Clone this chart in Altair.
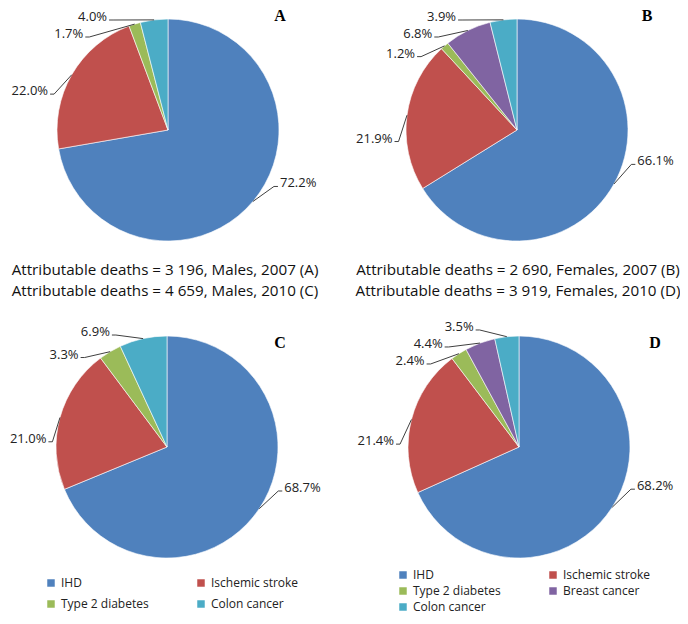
import math
import altair as alt
import pandas as pd

# ---------------- data ----------------
panels = ["A", "B", "C", "D"]
sexes = ["Males", "Females", "Males", "Females"]
years = [2007, 2007, 2010, 2010]
deaths = [3196, 2690, 4659, 3919]

male_causes = ["IHD", "Ischemic stroke", "Type 2 diabetes", "Colon cancer"]
female_causes = ["IHD", "Ischemic stroke", "Type 2 diabetes", "Breast cancer", "Colon cancer"]

share_A = [72.2, 22.0, 1.7, 4.0]
share_B = [66.1, 21.9, 1.2, 6.8, 3.9]
share_C = [68.7, 21.0, 3.3, 6.9]
share_D = [68.2, 21.4, 2.4, 4.4, 3.5]

# ---------------- style / layout ----------------
colors = {
    "IHD": "#4F81BD",
    "Ischemic stroke": "#C0504D",
    "Type 2 diabetes": "#9BBB59",
    "Breast cancer": "#8064A2",
    "Colon cancer": "#4BACC6",
}
W, H = 672, 608
R = 111
RLX, RLY = 119, 124   # label elbow ellipse radii
LABEL_SHIFT = 13      # degrees, counter-clockwise shift of label anchors
GAP = 17              # minimal vertical gap between labels on one side
TOP_MIN = 12
TAIL = 4
LBL_SIZE = 13
centers = {"A": (160, 122), "B": (509, 122), "C": (159, 439), "D": (511, 439)}
letter_pos = {"A": (272, 8), "B": (639, 8), "C": (272, 335), "D": (647, 335)}
caption_x = [157, 510]
caption_y = [262, 283]
FONT = "Open Sans"

series = {"A": (male_causes, share_A), "B": (female_causes, share_B),
          "C": (male_causes, share_C), "D": (female_causes, share_D)}

pie_rows, line_rows, text_rows = [], [], []
for p in panels:
    causes, shares = series[p]
    cx, cy = centers[p]
    total = sum(shares)
    cum = 0.0
    items = []
    for c, v in zip(causes, shares):
        t0 = cum / total
        cum += v
        t1 = cum / total
        pie_rows.append(dict(panel=p, cause=c, cx=cx, cy=cy, t0=t0, t1=t1,
                             side="L" if p in ("A", "C") else "R"))
        mid = (t0 + t1) / 2 * 2 * math.pi
        lab = mid - math.radians(LABEL_SHIFT)
        side = "right" if math.sin(lab) >= 0 else "left"
        items.append(dict(cause=c, v=v, mid=mid, side=side, ey=cy - RLY * math.cos(lab)))
    for side in ("left", "right"):
        grp = sorted([it for it in items if it["side"] == side], key=lambda d: d["ey"])
        prev = -1e9
        for it in grp:
            y = max(it["ey"], prev + GAP, TOP_MIN)
            y = min(y, cy + RLY)
            it["ey"] = y
            frac = (y - cy) / RLY
            dx = RLX * math.sqrt(max(1 - frac ** 2, 0))
            est_w = len(f"{it['v']:.1f}%") * 0.56 * LBL_SIZE
            if side == "right":
                it["ex"] = min(cx + dx, W - 2 - est_w - TAIL - 2)
            else:
                it["ex"] = max(cx - dx, 2 + est_w + TAIL + 2)
            prev = y
    for it in items:
        sgn = 1 if it["side"] == "right" else -1
        lid = p + it["cause"]
        pts = [(cx + R * math.sin(it["mid"]), cy - R * math.cos(it["mid"])),
               (it["ex"], it["ey"]),
               (it["ex"] + sgn * TAIL, it["ey"])]
        for k, (x, y) in enumerate(pts):
            line_rows.append(dict(id=lid, k=k, x=x, y=y))
        text_rows.append(dict(x=it["ex"] + sgn * (TAIL + 2), y=it["ey"],
                              label=f"{it['v']:.1f}%", side=it["side"]))

pies = pd.DataFrame(pie_rows)
lines = pd.DataFrame(line_rows)
texts = pd.DataFrame(text_rows)

cap_rows = []
for i, p in enumerate(panels):
    d = f"{deaths[i]:,}".replace(",", " ")
    cap_rows.append(dict(x=caption_x[i % 2], y=caption_y[i // 2],
                         text=f"Attributable deaths = {d}, {sexes[i]}, {years[i]} ({p})"))
caps = pd.DataFrame(cap_rows)
letters = pd.DataFrame([dict(x=letter_pos[p][0], y=letter_pos[p][1], t=p) for p in panels])

xs = alt.Scale(domain=[0, W], nice=False, zero=False)
ys = alt.Scale(domain=[0, H], nice=False, zero=False, reverse=True)
X = lambda f: alt.X(f, scale=xs, axis=None)
Y = lambda f: alt.Y(f, scale=ys, axis=None)
th_scale = alt.Scale(domain=[0, 1], range=[0, 2 * math.pi])


def legend(lx, ly, rowpad):
    return alt.Legend(title=None, orient="none", legendX=lx, legendY=ly, columns=2,
                      direction="horizontal", columnPadding=46, rowPadding=rowpad,
                      symbolType="square", symbolSize=56, symbolStrokeWidth=0,
                      labelFont=FONT, labelFontSize=12, labelColor="#222222",
                      labelOffset=4, padding=0)


base_pie = alt.Chart(pies)
arc_left = base_pie.transform_filter(alt.datum.side == "L").mark_arc(
    radius=R, stroke="white", strokeWidth=0.6).encode(
    x=X("cx:Q"), y=Y("cy:Q"),
    theta=alt.Theta("t0:Q", scale=th_scale, stack=None), theta2="t1:Q",
    color=alt.Color("cause:N",
                    scale=alt.Scale(domain=male_causes, range=[colors[c] for c in male_causes]),
                    legend=legend(37, 569, 9)))
arc_right = base_pie.transform_filter(alt.datum.side == "R").mark_arc(
    radius=R, stroke="white", strokeWidth=0.6).encode(
    x=X("cx:Q"), y=Y("cy:Q"),
    theta=alt.Theta("t0:Q", scale=th_scale, stack=None), theta2="t1:Q",
    color=alt.Color("cause:N",
                    scale=alt.Scale(domain=female_causes, range=[colors[c] for c in female_causes]),
                    legend=legend(389, 561, 4)))

leader = alt.Chart(lines).mark_line(color="#404040", strokeWidth=1).encode(
    x=X("x:Q"), y=Y("y:Q"), detail="id:N", order="k:Q")
lab_r = alt.Chart(texts).transform_filter(alt.datum.side == "right").mark_text(
    align="left", baseline="middle", dy=-3, font=FONT, fontSize=LBL_SIZE, color="#222222").encode(
    x=X("x:Q"), y=Y("y:Q"), text="label:N")
lab_l = alt.Chart(texts).transform_filter(alt.datum.side == "left").mark_text(
    align="right", baseline="middle", dy=-3, font=FONT, fontSize=LBL_SIZE, color="#222222").encode(
    x=X("x:Q"), y=Y("y:Q"), text="label:N")
cap = alt.Chart(caps).mark_text(align="center", baseline="middle", font=FONT,
                                fontSize=15.2, color="#111111").encode(
    x=X("x:Q"), y=Y("y:Q"), text="text:N")
let = alt.Chart(letters).mark_text(align="center", baseline="middle", font="Liberation Serif",
                                   fontWeight="bold", fontSize=16, color="#000000").encode(
    x=X("x:Q"), y=Y("y:Q"), text="t:N")

chart = alt.layer(arc_left, arc_right, leader, lab_r, lab_l, cap, let).resolve_scale(
    color="independent").properties(
    width=W, height=H, padding=0, autosize=alt.AutoSizeParams(type="none")
).configure_view(stroke=None)

chart.save("out.html", embed_options={"renderer": "svg", "actions": False})
